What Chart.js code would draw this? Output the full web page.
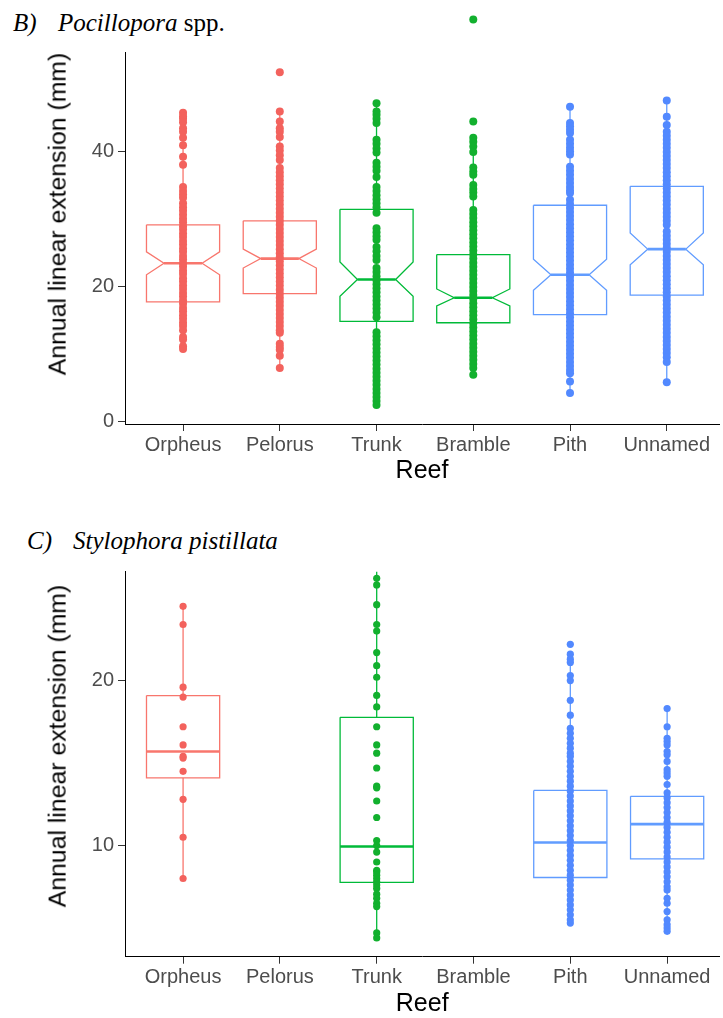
<!DOCTYPE html>
<html>
<head>
<meta charset="utf-8">
<script src="https://cdn.jsdelivr.net/npm/chart.js@4.4.1/dist/chart.umd.min.js"></script>
<style>
  html, body { margin: 0; padding: 0; background: #fff; width: 723px; height: 1018px; overflow: hidden; }
  .panel { position: absolute; left: 0; }
  .title { position: absolute; font-family: "Liberation Serif", serif; font-size: 25px; line-height: 25px; white-space: nowrap; color: #000; }
  .ytitle { position: absolute; font-family: "Liberation Sans", Arial, sans-serif; font-size: 24.8px; line-height: 24.8px;
            white-space: nowrap; color: #000; transform: translate(-50%, -50%) rotate(-90deg); }
</style>
</head>
<body>
<div class="title" style="left:13px;top:9.8px"><i>B)</i></div>
<div class="title" style="left:58px;top:9.8px"><i>Pocillopora</i> spp.</div>
<div class="panel" style="top:0;width:723px;height:486px"><canvas id="chartB" width="723" height="486"></canvas></div>
<div class="ytitle" style="left:58px;top:213.5px">Annual linear extension (mm)</div>

<div class="title" style="left:27px;top:528.4px"><i>C)</i></div>
<div class="title" style="left:73px;top:528.4px"><i>Stylophora pistillata</i></div>
<div class="panel" style="top:520px;width:723px;height:499px"><canvas id="chartC" width="723" height="499"></canvas></div>
<div class="ytitle" style="left:58px;top:746px">Annual linear extension (mm)</div>

<script>
// reefs on the x axis
const reefs = ['Orpheus', 'Pelorus', 'Trunk', 'Bramble', 'Pith', 'Unnamed'];
const reefColours = ['#F8766D', '#F8766D', '#00BA38', '#00BA38', '#619CFF', '#619CFF'];
const dotColours = ['#F3625D', '#F3625D', '#12B02E', '#12B02E', '#5289FF', '#5289FF'];

// B) Pocillopora spp. - every measurement read off the column of dots
const pocOrpheus = [45.8, 45.3, 44.9, 44.4, 43.5, 43.0, 42.1, 41.0, 39.3, 38.1, 34.8, 34.2, 33.7, 33.2, 32.4, 31.8, 31.3, 30.7, 30.1, 29.6, 29.0, 28.5, 27.9, 27.4, 26.8, 26.3, 25.7, 25.2, 24.6, 24.1, 23.5, 23.0, 22.4, 21.9, 21.3, 20.8, 20.2, 19.7, 19.1, 18.6, 18.0, 17.5, 16.9, 16.4, 15.8, 15.3, 14.7, 14.2, 13.6, 12.6, 12.2, 11.2, 10.8];
const pocPelorus = [51.8, 46.0, 44.5, 43.5, 43.0, 42.2, 40.8, 40.2, 39.5, 38.8, 37.6, 37.0, 36.4, 35.8, 35.2, 34.6, 34.0, 33.4, 32.8, 32.2, 31.6, 31.0, 30.4, 29.8, 29.2, 28.6, 28.0, 27.4, 26.8, 26.2, 25.6, 25.0, 24.4, 23.8, 23.2, 22.6, 22.0, 21.4, 20.8, 20.2, 19.6, 19.0, 18.4, 17.8, 17.2, 16.6, 16.0, 15.4, 14.8, 14.2, 13.6, 13.2, 11.6, 11.1, 10.7, 9.8, 8.0];
const pocTrunk = [47.2, 46.0, 45.5, 44.9, 44.3, 41.8, 41.2, 40.5, 39.9, 38.4, 37.8, 37.2, 36.3, 34.8, 34.2, 33.6, 33.0, 32.4, 31.8, 31.0, 28.7, 28.1, 27.5, 27.0, 25.9, 25.3, 24.6, 24.0, 22.8, 22.2, 21.6, 21.0, 20.4, 19.8, 19.2, 18.6, 18.0, 17.4, 16.8, 16.2, 15.5, 13.3, 12.7, 12.1, 11.5, 10.9, 10.3, 9.7, 9.1, 8.5, 7.9, 7.3, 6.7, 6.1, 5.5, 4.9, 4.3, 3.7, 3.1, 2.5];
const pocBramble = [59.6, 44.5, 42.1, 41.5, 40.8, 40.0, 37.7, 37.1, 36.6, 35.1, 34.5, 34.0, 33.4, 31.4, 30.8, 30.2, 29.6, 29.0, 28.4, 27.8, 27.2, 26.6, 26.0, 25.4, 24.8, 24.2, 23.6, 23.0, 22.4, 21.8, 21.2, 20.6, 20.0, 19.4, 18.8, 18.2, 17.6, 17.0, 16.4, 15.8, 15.2, 14.6, 14.0, 13.4, 12.8, 12.2, 11.6, 11.0, 10.4, 9.8, 9.2, 8.6, 8.0, 7.0];
const pocPith = [46.7, 44.3, 43.8, 43.3, 42.8, 41.8, 41.2, 40.6, 40.1, 39.6, 37.8, 37.2, 36.6, 36.0, 35.4, 34.8, 34.3, 33.9, 32.9, 32.3, 31.7, 31.1, 30.5, 29.9, 29.3, 28.7, 28.1, 27.5, 26.9, 26.3, 25.7, 25.1, 24.5, 23.9, 23.3, 22.7, 22.1, 21.5, 20.9, 20.3, 19.7, 19.1, 18.5, 17.9, 17.3, 16.7, 16.1, 15.5, 14.9, 14.3, 13.7, 13.1, 12.5, 11.9, 11.3, 10.7, 10.1, 9.5, 8.9, 8.3, 7.7, 7.2, 6.0, 4.3];
const pocUnnamed = [47.6, 45.2, 44.0, 43.0, 42.4, 41.8, 41.2, 40.6, 40.0, 39.4, 38.8, 38.2, 37.6, 37.0, 36.4, 35.8, 35.2, 34.6, 34.0, 33.4, 32.8, 32.2, 31.6, 31.0, 30.4, 29.8, 29.2, 28.2, 27.6, 27.0, 26.4, 25.8, 25.2, 24.6, 24.0, 23.4, 22.8, 22.2, 21.6, 21.0, 20.4, 19.8, 19.2, 18.6, 18.0, 17.4, 16.8, 16.2, 15.6, 15.0, 14.4, 13.8, 13.2, 12.6, 12.0, 11.4, 10.8, 10.2, 9.6, 8.9, 5.9];

// B) box statistics (notched)
const pocQ1 = [17.8, 19.0, 14.9, 14.7, 15.9, 18.8];
const pocNotchLo = [21.8, 22.8, 18.6, 17.2, 19.5, 23.3];
const pocMedian = [23.5, 24.2, 21.1, 18.4, 21.8, 25.6];
const pocNotchHi = [25.2, 25.6, 23.7, 19.7, 24.1, 28.0];
const pocQ3 = [29.2, 29.8, 31.5, 24.8, 32.1, 34.9];
const pocWhiskerLo = [10.8, 8.0, 2.5, 7.0, 4.3, 5.9];
const pocWhiskerHi = [45.8, 46.0, 47.2, 40.0, 46.7, 47.6];
const pocTicks = [0, 20, 40];

// C) Stylophora pistillata
const styOrpheus = [24.5, 23.4, 19.6, 19.0, 17.2, 16.1, 15.4, 15.3, 14.5, 12.8, 10.5, 8.0];
const styPelorus = [];
const styTrunk = [29.3, 26.2, 25.8, 24.6, 23.4, 23.0, 21.7, 20.9, 20.2, 19.1, 18.4, 17.2, 16.1, 15.6, 14.7, 13.6, 13.5, 12.7, 11.7, 10.3, 10.0, 9.6, 9.0, 8.5, 8.4, 8.2, 8.0, 7.8, 7.6, 7.4, 7.05, 6.8, 6.5, 6.3, 4.7, 4.4];
const styBramble = [];
const styPith = [22.2, 21.6, 21.3, 21.1, 20.3, 20.0, 18.8, 17.9, 17.1, 16.8, 16.5, 16.2, 15.9, 15.6, 15.4, 15.1, 14.8, 14.5, 14.2, 13.9, 13.6, 13.3, 13.0, 12.7, 12.4, 12.1, 11.8, 11.5, 11.2, 10.9, 10.6, 10.3, 10.0, 9.7, 9.4, 9.1, 8.8, 8.5, 8.2, 7.9, 7.6, 7.3, 7.0, 6.7, 6.4, 6.1, 5.8, 5.5, 5.3];
const styUnnamed = [18.3, 17.2, 16.5, 16.3, 16.1, 15.7, 15.5, 15.1, 14.6, 14.4, 14.2, 13.7, 13.2, 12.9, 12.6, 12.3, 12.0, 11.7, 11.4, 11.1, 10.8, 10.5, 10.2, 9.9, 9.6, 9.3, 9.0, 8.7, 8.4, 8.1, 7.8, 7.5, 7.3, 6.8, 6.5, 6.0, 5.5, 5.2, 5.0, 4.8];

const styQ1 = [14.1, null, 7.76, null, 8.06, 9.19];
const styMedian = [15.7, null, 9.94, null, 10.18, 11.3];
const styQ3 = [19.09, null, 17.77, null, 13.34, 12.98];
const styWhiskerLo = [8.0, null, 4.44, null, 5.29, 4.78];
const styWhiskerHi = [24.5, null, 29.3, null, 21.07, 18.34];
const styTicks = [10, 20];

const HALF_BOX = 0.378;
const HALF_NOTCH = 0.197;

// outline + whiskers of one box, as a broken line (null y = pen up)
function boxLines(i, s) {
  const x = i + 1, a = x - HALF_BOX, b = x + HALF_BOX;
  if (s.q1[i] == null) return [];
  let pts;
  if (s.notchLo) {
    pts = [
      {x: a, y: s.q3[i]}, {x: b, y: s.q3[i]}, {x: b, y: s.notchHi[i]},
      {x: x + HALF_NOTCH, y: s.median[i]}, {x: b, y: s.notchLo[i]}, {x: b, y: s.q1[i]},
      {x: a, y: s.q1[i]}, {x: a, y: s.notchLo[i]}, {x: x - HALF_NOTCH, y: s.median[i]},
      {x: a, y: s.notchHi[i]}, {x: a, y: s.q3[i]}
    ];
  } else {
    pts = [{x: a, y: s.q3[i]}, {x: b, y: s.q3[i]}, {x: b, y: s.q1[i]}, {x: a, y: s.q1[i]}, {x: a, y: s.q3[i]}];
  }
  pts.push({x: x, y: null},
    {x: x, y: s.q3[i]}, {x: x, y: s.whiskerHi[i]}, {x: x, y: null},
    {x: x, y: s.q1[i]}, {x: x, y: s.whiskerLo[i]});
  return pts;
}

function medianLine(i, s) {
  const x = i + 1;
  if (s.median[i] == null) return [];
  const h = s.notchLo ? HALF_NOTCH : HALF_BOX;
  return [{x: x - h, y: s.median[i]}, {x: x + h, y: s.median[i]}];
}

function buildDatasets(points, s, clipPoints, radius) {
  const ds = [];
  reefs.forEach((r, i) => {
    const c = reefColours[i];
    ds.push({
      label: r + ' points', data: points[i].map(v => ({x: i + 1, y: v})),
      showLine: false, pointRadius: radius, pointHoverRadius: radius, pointBorderWidth: 0,
      pointBackgroundColor: dotColours[i], borderColor: dotColours[i], order: 0, clip: clipPoints
    });
    ds.push({
      label: r + ' median', data: medianLine(i, s), showLine: true, borderColor: c,
      borderWidth: 2.6, pointRadius: 0, pointHitRadius: 0, order: 1
    });
    ds.push({
      label: r + ' box', data: boxLines(i, s), showLine: true, spanGaps: false, borderColor: c,
      borderWidth: 1.3, pointRadius: 0, pointHitRadius: 0, order: 2
    });
  });
  return ds;
}

// Chart.js skips points outside the chart area even with clip:false,
// so outliers beyond the axis top are placed here from the scales
const outsidePoints = {
  id: 'outsidePoints',
  afterDatasetsDraw(chart) {
    const {ctx, chartArea} = chart;
    const xs = chart.scales.x, ys = chart.scales.y;
    chart.data.datasets.forEach(ds => {
      if (ds.showLine !== false || ds.clip !== false) return;
      ds.data.forEach(p => {
        const py = ys.getPixelForValue(p.y);
        const r = ds.pointRadius;
        if (py >= chartArea.top - r && py <= chartArea.bottom + r) return;
        ctx.save();
        ctx.fillStyle = ds.pointBackgroundColor;
        ctx.beginPath();
        ctx.arc(xs.getPixelForValue(p.x), py, r, 0, Math.PI * 2);
        ctx.fill();
        ctx.restore();
      });
    });
  }
};

function scales(yMin, yMax, yTicks, xHeight) {
  const tickFont = {family: 'Liberation Sans', size: 20};
  const grid = {display: true, drawOnChartArea: false, drawTicks: true, tickLength: 7, color: '#333', lineWidth: 1};
  const border = {display: true, color: '#000', width: 1};
  return {
    x: {
      type: 'linear', min: 0.4, max: 6.54,
      afterBuildTicks: sc => { sc.ticks = reefs.map((r, i) => ({value: i + 1})); },
      afterFit: sc => { sc.height = xHeight; },
      ticks: {callback: (v, idx) => reefs[idx], font: tickFont, color: '#4D4D4D', padding: 2, maxRotation: 0, autoSkip: false},
      grid: grid, border: border,
      title: {display: true, text: 'Reef', font: {family: 'Liberation Sans', size: 25}, color: '#000', padding: 0}
    },
    y: {
      type: 'linear', min: yMin, max: yMax,
      afterBuildTicks: sc => { sc.ticks = yTicks.map(v => ({value: v})); },
      afterFit: sc => { sc.width = 125; },
      ticks: {font: tickFont, color: '#4D4D4D', padding: 4},
      grid: grid, border: border
    }
  };
}

function makeChart(id, datasets, sc, padTop) {
  return new Chart(document.getElementById(id), {
    type: 'scatter',
    data: {datasets: datasets},
    options: {
      responsive: false, animation: false, devicePixelRatio: 1,
      layout: {padding: {top: padTop, left: 0, right: 0, bottom: 0}},
      plugins: {legend: {display: false}, tooltip: {enabled: false}},
      scales: sc
    },
    plugins: [outsidePoints]
  });
}

const pocStats = {q1: pocQ1, notchLo: pocNotchLo, median: pocMedian, notchHi: pocNotchHi, q3: pocQ3, whiskerLo: pocWhiskerLo, whiskerHi: pocWhiskerHi};
const styStats = {q1: styQ1, median: styMedian, q3: styQ3, whiskerLo: styWhiskerLo, whiskerHi: styWhiskerHi};

makeChart('chartB',
  buildDatasets([pocOrpheus, pocPelorus, pocTrunk, pocBramble, pocPith, pocUnnamed], pocStats, false, 4),
  scales(-0.3, 54.8, pocTicks, 62), 52);

makeChart('chartC',
  buildDatasets([styOrpheus, styPelorus, styTrunk, styBramble, styPith, styUnnamed], styStats, undefined, 3.6),
  scales(3.26, 26.6, styTicks, 62.3), 51.7);
</script>
</body>
</html>
